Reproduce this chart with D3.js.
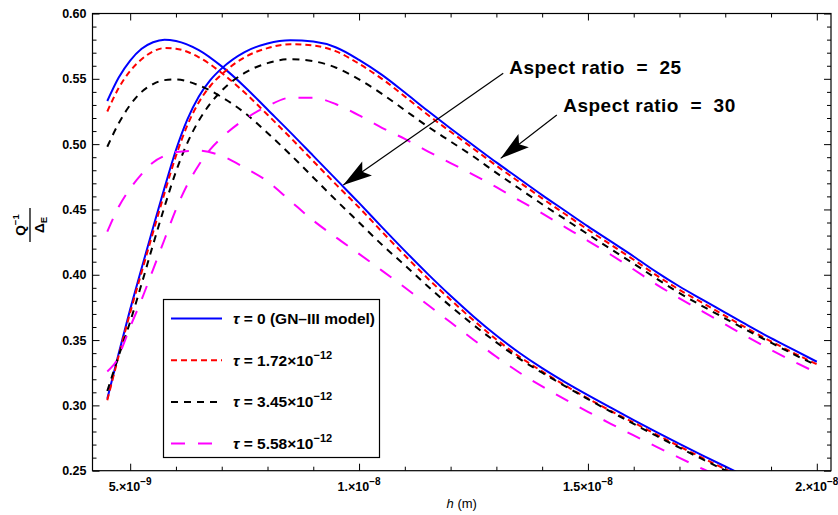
<!DOCTYPE html>
<html>
<head>
<meta charset="utf-8">
<script src="https://cdn.jsdelivr.net/npm/d3@7/dist/d3.min.js"></script>
<style>
  body { margin: 0; background: #fff; }
  text { font-family: "Liberation Sans", Arial, sans-serif; }
</style>
</head>
<body>
<svg id="chart" width="838" height="515"></svg>
<script>
// h values are in units of 1e-9 m
var hA = [4.5, 4.75, 5, 5.25, 5.5, 5.75, 6, 6.5, 7, 7.5, 8, 8.5, 9, 9.5, 10, 10.5, 11, 11.5, 12, 12.5, 13, 13.5, 14, 14.5, 15, 15.5, 16, 16.5, 17, 17.5, 18, 18.5]
var blueA = [0.533, 0.551, 0.564, 0.573, 0.578, 0.580, 0.579, 0.572, 0.5595, 0.544, 0.5265, 0.509, 0.491, 0.473, 0.455, 0.4365, 0.4183, 0.4007, 0.3839, 0.3681, 0.3535, 0.3403, 0.3285, 0.3178, 0.3078, 0.2982, 0.2888, 0.2796, 0.2706, 0.2618, 0.2532, 0.2448]
var redA = [0.525, 0.543, 0.556, 0.565, 0.571, 0.5735, 0.573, 0.5665, 0.5545, 0.5395, 0.5225, 0.505, 0.487, 0.469, 0.4515, 0.433, 0.4148, 0.3972, 0.3809, 0.3651, 0.3505, 0.3373, 0.326, 0.3153, 0.3053, 0.2957, 0.2868, 0.2776, 0.2686, 0.2598, 0.2512, 0.2428]
var blackA = [0.498, 0.516, 0.530, 0.540, 0.546, 0.549, 0.5495, 0.545, 0.536, 0.524, 0.5085, 0.492, 0.4745, 0.457, 0.440, 0.423, 0.4073, 0.3912, 0.3759, 0.3616, 0.3482, 0.3358, 0.325, 0.3148, 0.3048, 0.2952, 0.2858, 0.2766, 0.2676, 0.2588, 0.2502, 0.2418]
var magentaA = [0.433, 0.452, 0.466, 0.477, 0.486, 0.491, 0.494, 0.495, 0.491, 0.482, 0.4715, 0.4565, 0.4415, 0.4285, 0.416, 0.4032, 0.3902, 0.377, 0.3636, 0.3503, 0.3372, 0.3252, 0.3145, 0.3046, 0.2951, 0.2859, 0.277, 0.2683, 0.2598, 0.2515, 0.2433, 0.2352]

var hB = [4.5, 4.75, 5, 5.25, 5.5, 5.75, 6, 6.25, 6.5, 6.75, 7, 7.5, 8, 8.5, 9, 9.5, 10, 10.5, 11, 11.5, 12, 12.5, 13, 13.5, 14, 14.5, 15, 15.5, 16, 16.5, 17, 17.5, 18, 18.5, 19, 19.5, 20]
var blueB = [0.305, 0.340, 0.3735, 0.405, 0.436, 0.4665, 0.4955, 0.519, 0.5365, 0.549, 0.558, 0.5705, 0.577, 0.5795, 0.5785, 0.574, 0.5645, 0.553, 0.5395, 0.5255, 0.512, 0.499, 0.486, 0.4735, 0.461, 0.449, 0.437, 0.4255, 0.414, 0.402, 0.391, 0.381, 0.371, 0.361, 0.3515, 0.3425, 0.3334]
var redB = [0.304, 0.338, 0.371, 0.402, 0.4325, 0.4625, 0.491, 0.5145, 0.532, 0.5445, 0.5535, 0.5665, 0.5735, 0.5765, 0.5755, 0.571, 0.5615, 0.550, 0.5365, 0.5225, 0.5095, 0.4965, 0.4835, 0.471, 0.4585, 0.4465, 0.4345, 0.423, 0.4115, 0.3995, 0.3885, 0.3785, 0.3685, 0.3585, 0.349, 0.340, 0.3315]
var blackB = [0.311, 0.338, 0.364, 0.393, 0.423, 0.452, 0.479, 0.501, 0.518, 0.531, 0.541, 0.5545, 0.562, 0.565, 0.5635, 0.5585, 0.5495, 0.5385, 0.526, 0.5135, 0.502, 0.4905, 0.478, 0.466, 0.454, 0.4425, 0.431, 0.4197, 0.4085, 0.397, 0.386, 0.376, 0.3665, 0.357, 0.348, 0.339, 0.3305]
var hBm = [4.5, 4.6, 4.7, 4.8, 5, 5.25, 5.5, 5.75, 6, 6.25, 6.5, 6.75, 7, 7.5, 8, 8.5, 9, 9.5, 10, 10.5, 11, 11.5, 12, 12.5, 13, 13.5, 14, 14.5, 15, 15.5, 16, 16.5, 17, 17.5, 18, 18.5, 19, 19.5, 20]
var magentaB = [0.326, 0.3295, 0.334, 0.342, 0.360, 0.381, 0.404, 0.427, 0.450, 0.469, 0.484, 0.496, 0.505, 0.519, 0.529, 0.5355, 0.5355, 0.5305, 0.522, 0.5125, 0.504, 0.4945, 0.4855, 0.4765, 0.467, 0.457, 0.447, 0.4365, 0.426, 0.4153, 0.404, 0.3925, 0.382, 0.372, 0.362, 0.352, 0.3425, 0.3335, 0.325]

var xMajor = [5, 10, 15, 20]
var xMajorBase = ["5.\u00d710", "1.\u00d710", "1.5\u00d710", "2.\u00d710"]
var xMajorExp = ["\u22129", "\u22128", "\u22128", "\u22128"]
var xMinor = [6, 7, 8, 9, 11, 12, 13, 14, 16, 17, 18, 19]
var yMajor = [0.25, 0.30, 0.35, 0.40, 0.45, 0.50, 0.55, 0.60]
var yMinor = d3.range(26, 60).filter(function(d){ return d % 5 != 0 }).map(function(d){ return d / 100 })

var legendTau = ["0 (GN\u2013III model)", "1.72\u00d710", "3.45\u00d710", "5.58\u00d710"]
var legendExp = ["", "\u221212", "\u221212", "\u221212"]

// annotation: label, text anchor point, arrow start, arrow tip (data units)
var notes = [
  {label: "Aspect ratio  =  25", tx: 13.28, ty: 0.5537, sx: 13.15, sy: 0.5542, ex: 9.656, ey: 0.4687},
  {label: "Aspect ratio  =  30", tx: 14.46, ty: 0.5246, sx: 14.32, sy: 0.5223, ex: 13.094, ey: 0.4891}
]

var styles = [
  {color: "#0000ff", dash: null},
  {color: "#ff0000", dash: "6,4"},
  {color: "#000000", dash: "7,6"},
  {color: "#ff00ff", dash: "14,13"}
]

var series = [
  {h: hA, v: blueA, s: 0}, {h: hB, v: blueB, s: 0},
  {h: hA, v: redA, s: 1}, {h: hB, v: redB, s: 1},
  {h: hA, v: blackA, s: 2}, {h: hB, v: blackB, s: 2},
  {h: hA, v: magentaA, s: 3}, {h: hBm, v: magentaB, s: 3}
]

var svg = d3.select("#chart")
var pl = 92.5, pr = 831, pt = 13.5, pb = 470.7

var x = d3.scaleLinear().domain([4.177, 20.31]).range([pl, pr])
var y = d3.scaleLinear().domain([0.25, 0.60]).range([pb, pt])

svg.append("defs").append("clipPath").attr("id", "plotclip")
  .append("rect")
    .attr("x", pl).attr("y", pt)
    .attr("width", pr - pl).attr("height", pb - pt)

var line = d3.line()
  .x(function(d){ return x(d[0]) })
  .y(function(d){ return y(d[1]) })
  .curve(d3.curveMonotoneX)

svg.append("g").attr("clip-path", "url(#plotclip)")
  .selectAll("path")
  .data(series)
  .enter()
  .append("path")
    .attr("d", function(d){ return line(d.h.map(function(h, i){ return [h, d.v[i]] })) })
    .attr("fill", "none")
    .attr("stroke", function(d){ return styles[d.s].color })
    .attr("stroke-width", 2)
    .attr("stroke-dasharray", function(d){ return styles[d.s].dash })

// ticks on all four sides, pointing inward
function ticks(axis, values, size, transform){
  var g = svg.append("g")
    .attr("transform", transform)
    .call(axis.tickValues(values).tickSizeInner(-size).tickSizeOuter(0).tickFormat(""))
  g.select(".domain").remove()
  g.selectAll("line").attr("stroke", "#000").attr("stroke-width", 1)
  return g
}
ticks(d3.axisBottom(x), xMajor, 7, "translate(0," + pb + ")")
ticks(d3.axisBottom(x), xMinor, 4, "translate(0," + pb + ")")
ticks(d3.axisTop(x), xMajor, 7, "translate(0," + pt + ")")
ticks(d3.axisTop(x), xMinor, 4, "translate(0," + pt + ")")
ticks(d3.axisLeft(y), yMajor, 7, "translate(" + pl + ",0)")
ticks(d3.axisLeft(y), yMinor, 4, "translate(" + pl + ",0)")
ticks(d3.axisRight(y), yMajor, 7, "translate(" + pr + ",0)")
ticks(d3.axisRight(y), yMinor, 4, "translate(" + pr + ",0)")

svg.append("rect")
  .attr("x", pl).attr("y", pt)
  .attr("width", pr - pl).attr("height", pb - pt)
  .attr("fill", "none").attr("stroke", "#000").attr("stroke-width", 1.2)

// y tick labels
svg.append("g").selectAll("text")
  .data(yMajor)
  .enter()
  .append("text")
    .attr("x", pl - 6)
    .attr("y", function(d){ return y(d) + 4.5 })
    .attr("text-anchor", "end")
    .attr("font-size", 12.5).attr("font-weight", "bold")
    .text(function(d){ return d.toFixed(2) })

// x tick labels with superscripts
var xl = svg.append("g").selectAll("text")
  .data(xMajor)
  .enter()
  .append("text")
    .attr("x", function(d){ return x(d) })
    .attr("y", pb + 20)
    .attr("text-anchor", "middle")
    .attr("font-size", 12.5).attr("font-weight", "bold")
xl.append("tspan").text(function(d, i){ return xMajorBase[i] })
xl.append("tspan").attr("dy", -6).attr("font-size", 10).text(function(d, i){ return xMajorExp[i] })

// axis titles
var xt = svg.append("text")
  .attr("x", (pl + pr) / 2).attr("y", 508)
  .attr("text-anchor", "middle").attr("font-size", 13)
xt.append("tspan").attr("font-style", "italic").text("h")
xt.append("tspan").text(" (m)")

var yt = svg.append("g").attr("transform", "translate(30,225) rotate(-90)")
var q = yt.append("text").attr("x", 0).attr("y", -5).attr("text-anchor", "middle")
  .attr("font-size", 13.5).attr("font-weight", "bold")
q.append("tspan").text("Q")
q.append("tspan").attr("dy", -6).attr("font-size", 9.5).text("\u22121")
yt.append("line").attr("x1", -17).attr("x2", 17).attr("y1", 0).attr("y2", 0)
  .attr("stroke", "#000").attr("stroke-width", 1.3)
var de = yt.append("text").attr("x", 0).attr("y", 13.5).attr("text-anchor", "middle")
  .attr("font-size", 13.5).attr("font-weight", "bold")
de.append("tspan").text("\u0394")
de.append("tspan").attr("dy", 3).attr("font-size", 9.5).text("E")

// legend
var lg = svg.append("g")
lg.append("rect")
  .attr("x", 163.5).attr("y", 299.5).attr("width", 216).attr("height", 158)
  .attr("fill", "#fff").attr("stroke", "#000").attr("stroke-width", 1.2)
var item = lg.selectAll("g.item")
  .data(styles)
  .enter()
  .append("g")
    .attr("class", "item")
    .attr("transform", function(d, i){ return "translate(0," + (318.5 + i * 41.7) + ")" })
item.append("line")
  .attr("x1", 171).attr("x2", 222).attr("y1", 0).attr("y2", 0)
  .attr("stroke", function(d){ return d.color })
  .attr("stroke-width", 2)
  .attr("stroke-dasharray", function(d){ return d.dash })
var lt = item.append("text")
  .attr("x", 233).attr("y", 5.5)
  .attr("font-size", 15.5).attr("font-weight", "bold")
lt.append("tspan").attr("font-style", "italic").text("\u03c4")
lt.append("tspan").text(function(d, i){ return " = " + legendTau[i] })
lt.append("tspan").attr("dy", -7).attr("font-size", 11).text(function(d, i){ return legendExp[i] })

// annotations with arrows
var ann = svg.append("g").selectAll("g")
  .data(notes)
  .enter()
  .append("g")
ann.append("text")
  .attr("x", function(d){ return x(d.tx) })
  .attr("y", function(d){ return y(d.ty) })
  .attr("font-size", 19).attr("font-weight", "bold")
  .attr("textLength", 172).attr("lengthAdjust", "spacing")
  .style("white-space", "pre")
  .text(function(d){ return d.label })
ann.append("line")
  .attr("x1", function(d){ return x(d.sx) })
  .attr("y1", function(d){ return y(d.sy) })
  .attr("x2", function(d){ return x(d.ex) })
  .attr("y2", function(d){ return y(d.ey) })
  .attr("stroke", "#000").attr("stroke-width", 1.2)
ann.append("path")
  .attr("fill", "#000")
  .attr("d", function(d){
    var x0 = x(d.sx), y0 = y(d.sy), x1 = x(d.ex), y1 = y(d.ey)
    var len = Math.hypot(x1 - x0, y1 - y0)
    var ux = (x1 - x0) / len, uy = (y1 - y0) / len
    var L = 29, W = 8.5
    var bx = x1 - ux * L, by = y1 - uy * L
    var nx = x1 - ux * L * 0.8, ny = y1 - uy * L * 0.8
    return "M" + x1 + "," + y1 +
      "L" + (bx - uy * W) + "," + (by + ux * W) +
      "L" + nx + "," + ny +
      "L" + (bx + uy * W) + "," + (by - ux * W) + "Z"
  })
</script>
</body>
</html>
